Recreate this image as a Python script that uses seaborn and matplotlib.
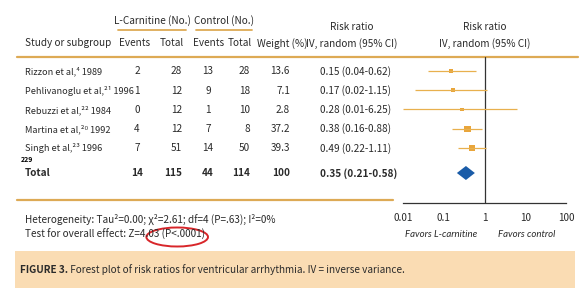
import numpy as np
import pandas as pd
import seaborn as sns
import matplotlib
matplotlib.use("Agg")
import matplotlib.pyplot as plt
from matplotlib.patches import Ellipse, Rectangle, Polygon

# ---------------- data ----------------
studies = ["Rizzon et al,⁴ 1989", "Pehlivanoglu et al,²¹ 1996", "Rebuzzi et al,²² 1984",
           "Martina et al,²⁰ 1992", "Singh et al,²³ 1996"]
lc_events = [2, 1, 0, 4, 7]
lc_total = [28, 12, 12, 12, 51]
ct_events = [13, 9, 1, 7, 14]
ct_total = [28, 18, 10, 8, 50]
weights = [13.6, 7.1, 2.8, 37.2, 39.3]
rr = [0.15, 0.17, 0.28, 0.38, 0.49]
rr_lo = [0.04, 0.02, 0.01, 0.16, 0.22]
rr_hi = [0.62, 1.15, 6.25, 0.88, 1.11]
total_vals = [14, 115, 44, 114, 100]
total_rr, total_lo, total_hi = 0.35, 0.21, 0.58
tick_vals = [0.01, 0.1, 1, 10, 100]
tick_labels = ["0.01", "0.1", "1", "10", "100"]

# ---------------- style ----------------
sns.set_style("white")
fam = "Noto Sans CJK JP"
ITF = "Lato"
plt.rcParams["font.family"] = [fam, "DejaVu Sans"]

FS = 7.2
FSN = 6.6
GOLD = "#DDAA55"
SQ = "#E9A53A"
CIC = "#E8B04E"
BLUE = "#1A5CA8"
TXT = "#2a2a2a"
plt.rcParams["text.color"] = TXT

fig = plt.figure(figsize=(5.8, 3.0), dpi=100)
fig.patch.set_facecolor("white")
renderer = fig.canvas.get_renderer()

tab = fig.add_axes([0, 0, 1, 1])
tab.set_xlim(0, 580)
tab.set_ylim(300, 0)
tab.axis("off")

BL = 3.4  # offset from row centre to text baseline (pixels)


def T(x, y, s, ha="left", **kw):
    kw.setdefault("fontsize", FS)
    return tab.text(x, y + BL, s, ha=ha, va="baseline", **kw)


# caption band
tab.add_patch(Rectangle((15, 251), 560, 37, facecolor="#FADCB3", edgecolor="none"))

# header
T(152, 20, "L-Carnitine (No.)", ha="center")
T(224, 20, "Control (No.)", ha="center")
tab.plot([118, 186], [30, 30], color=GOLD, lw=1.3)
tab.plot([196, 252], [30, 30], color=GOLD, lw=1.3)
T(25, 43, "Study or subgroup")
T(135, 43, "Events", ha="center")
T(172, 43, "Total", ha="center")
T(209, 43, "Events", ha="center")
T(240, 43, "Total", ha="center")
T(282, 43, "Weight (%)", ha="center")
for cx in (352, 485):
    T(cx, 27, "Risk ratio", ha="center")
    T(cx, 43, "IV, random (95% CI)", ha="center")
tab.plot([17, 578], [57, 57], color=GOLD, lw=1.6)

row_y = [71, 90.3, 109.5, 128.8, 148]
for i, y in enumerate(row_y):
    T(25, y, studies[i], fontsize=FSN)
    T(137, y, str(lc_events[i]), ha="center")
    T(182, y, str(lc_total[i]), ha="right")
    T(208, y, str(ct_events[i]), ha="center")
    T(250, y, str(ct_total[i]), ha="right")
    T(290, y, f"{weights[i]:.1f}", ha="right")
    T(320, y, f"{rr[i]:.2f} ({rr_lo[i]:.2f}-{rr_hi[i]:.2f})")

T(21, 158.5, "229", fontsize=5.0, fontweight="bold", color="black")

ty = 173
T(25, ty, "Total", fontweight="bold")
T(137, ty, str(total_vals[0]), ha="center", fontweight="bold")
T(182, ty, str(total_vals[1]), ha="right", fontweight="bold")
T(208, ty, str(total_vals[2]), ha="center", fontweight="bold")
T(250, ty, str(total_vals[3]), ha="right", fontweight="bold")
T(290, ty, str(total_vals[4]), ha="right", fontweight="bold")
T(320, ty, f"{total_rr:.2f} ({total_lo:.2f}-{total_hi:.2f})", fontweight="bold")

tab.plot([17, 393], [200, 200], color=GOLD, lw=1.6)

T(25, 219.5, "Heterogeneity: Tau²=0.00; χ²=2.61; df=4 (P=.63); I²=0%")
test_txt = "Test for overall effect: Z=4.03 (P<.0001)"
T(25, 234, test_txt)
# ellipse around "03 (P<.0001)", placed from the measured text widths
pre = tab.text(0, 0, "Test for overall effect: Z=4.", fontsize=FS)
w_pre = pre.get_window_extent(renderer).width
pre.remove()
full = tab.text(0, 0, test_txt, fontsize=FS)
w_full = full.get_window_extent(renderer).width
full.remove()
ex0, ex1 = 25 + w_pre - 2, 25 + w_full + 3
tab.add_patch(Ellipse(((ex0 + ex1) / 2, 237), ex1 - ex0, 19, facecolor="none",
                      edgecolor="#D8262A", lw=1.4))

t1 = tab.text(20, 270, "FIGURE 3.", ha="left", va="center", fontsize=FS, fontweight="bold")
tab.annotate(" Forest plot of risk ratios for ventricular arrhythmia. IV = inverse variance.",
             xy=(1, 0.5), xycoords=t1, ha="left", va="center", fontsize=FS)

# forest axes: data y equals pixel row coordinate
fx0, fx1 = 403, 566
fy0, fy1 = 57, 203
fa = fig.add_axes([fx0 / 580, (300 - fy1) / 300, (fx1 - fx0) / 580, (fy1 - fy0) / 300])
fa.set_xscale("log")
fa.patch.set_alpha(0)
for s in ("top", "left", "right"):
    fa.spines[s].set_visible(False)
fa.spines["bottom"].set_color("#333333")
fa.spines["bottom"].set_linewidth(0.9)
fa.axvline(1, color="#333333", lw=0.9)

fa.hlines(row_y, rr_lo, rr_hi, color=CIC, lw=0.9)
df = pd.DataFrame({"rr": rr, "y": row_y, "w": weights})
sns.scatterplot(data=df, x="rr", y="y", size="w", sizes=(5, 22), size_norm=(2.8, 39.3),
                marker="s", color=SQ, edgecolor="none", legend=False, ax=fa)
fa.add_patch(Polygon([[total_lo, ty], [total_rr, ty - 7], [total_hi, ty], [total_rr, ty + 7]],
                     closed=True, facecolor=BLUE, edgecolor="none"))
fa.set_xlabel("")
fa.set_ylabel("")
fa.set_xlim(0.01, 100)
fa.set_ylim(fy1, fy0)
fa.set_xticks(tick_vals)
fa.set_xticklabels(tick_labels, fontsize=FS)
fa.xaxis.set_minor_locator(matplotlib.ticker.NullLocator())
fa.tick_params(axis="x", direction="out", length=4, width=0.8, color="#333333", pad=3,
               labelcolor=TXT)
fa.set_yticks([])

T(441, 234, "Favors L-carnitine", ha="center", fontsize=FS - 0.3, style="italic", family=ITF)
T(527, 234, "Favors control", ha="center", fontsize=FS - 0.3, style="italic", family=ITF)

fig.savefig("out.png", dpi=100)
